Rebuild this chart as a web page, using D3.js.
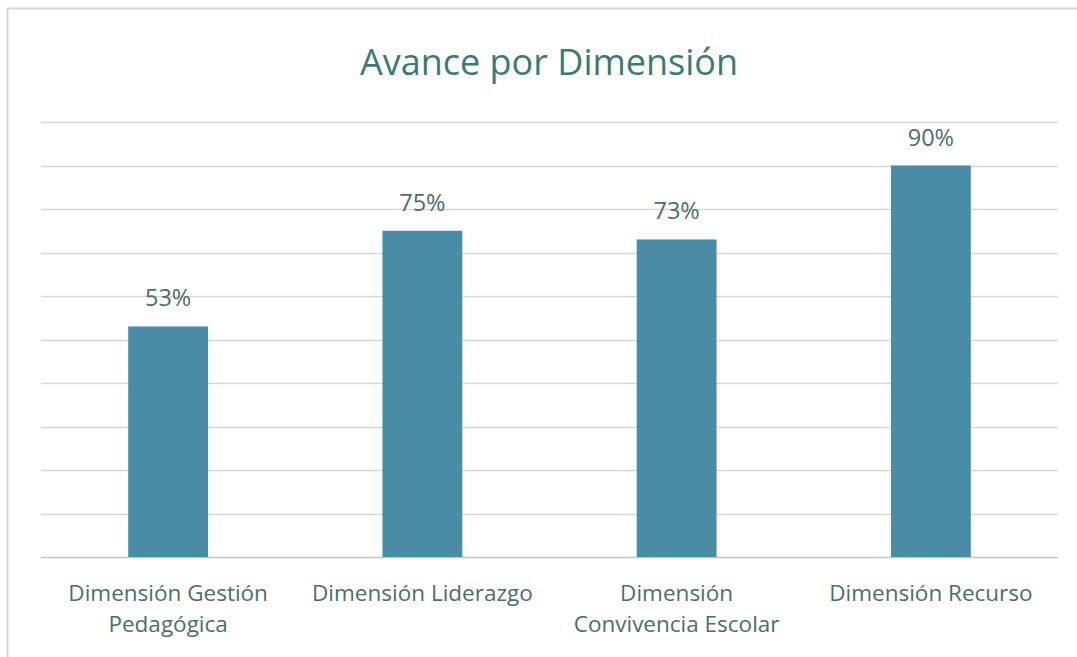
<!DOCTYPE html>
<html><head><meta charset="utf-8">
<script src="https://cdn.jsdelivr.net/npm/d3@7"></script>
<style>html,body{margin:0;padding:0;background:#fff;}svg{display:block;}</style>
</head><body>
<script>
const categories = [["Dimensión Gestión","Pedagógica"],["Dimensión Liderazgo"],["Dimensión","Convivencia Escolar"],["Dimensión Recurso"]];
const values = [53, 75, 73, 90];
const valueLabels = ["53%","75%","73%","90%"];
const yTicks = [0,10,20,30,40,50,60,70,80,90,100];
const title = "Avance por Dimensión";

(function(){
const W = 1077, H = 657;
const svg = d3.select("body").append("svg").attr("width", W).attr("height", H);
svg.append("rect").attr("x",0).attr("y",0).attr("width",W).attr("height",H).attr("fill","#fff");
svg.append("rect").attr("x",7.5).attr("y",8.5).attr("width",W+10).attr("height",H+10)
  .attr("fill","#fff").attr("stroke","#d9d9d9").attr("stroke-width",2);

const pl = 41, pr = 1058, pt = 122, pb = 557;
const x = d3.scaleBand().domain(d3.range(categories.length)).range([pl, pr]).paddingInner(0.686).paddingOuter(0.343);
const y = d3.scaleLinear().domain([0,100]).range([pb, pt]);
const font = "'Open Sans', sans-serif";

svg.append("g").selectAll("line").data(yTicks).join("line")
  .attr("x1", pl).attr("x2", pr)
  .attr("y1", d => Math.round(y(d))+0.5).attr("y2", d => Math.round(y(d))+0.5)
  .attr("stroke", d => d===0 ? "#c4c4c4" : "#d6d6d6").attr("stroke-width", 1.6);

svg.append("g").selectAll("rect").data(values).join("rect")
  .attr("x", (d,i) => x(i)).attr("width", x.bandwidth())
  .attr("y", d => y(d)).attr("height", d => pb - y(d))
  .attr("fill", "#4a8ca6");

svg.append("g").selectAll("text").data(values).join("text")
  .attr("x", (d,i) => x(i) + x.bandwidth()/2).attr("y", d => y(d) - 20)
  .attr("text-anchor","middle").attr("font-family", font).attr("font-size", 23.5)
  .attr("fill","#4d6e69").text((d,i) => valueLabels[i]);

const lab = svg.append("g").selectAll("text").data(categories).join("text")
  .attr("x", (d,i) => x(i) + x.bandwidth()/2).attr("y", 601)
  .attr("text-anchor","middle").attr("font-family", font).attr("font-size", 22.5)
  .attr("fill","#4d6e69");
lab.selectAll("tspan").data(d => d).join("tspan")
  .attr("x", function(){ return this.parentNode.getAttribute("x"); })
  .attr("dy", (d,j) => j===0 ? 0 : 31).text(d => d);

svg.append("text").attr("x", 549).attr("y", 75).attr("text-anchor","middle")
  .attr("font-family", font).attr("font-size", 36).attr("fill","#3f7a70").text(title);
})();
</script>
</body></html>
